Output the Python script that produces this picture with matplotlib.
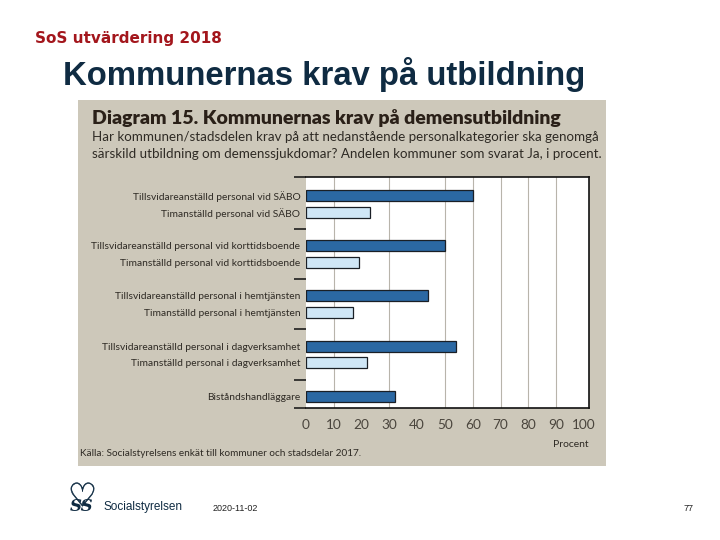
import matplotlib.pyplot as plt
from matplotlib.patches import Rectangle
from matplotlib.lines import Line2D

# Data (andel kommuner som svarat Ja, procent)
kategorier = [
    "Tillsvidareanställd personal vid SÄBO",
    "Timanställd personal vid SÄBO",
    "Tillsvidareanställd personal vid korttidsboende",
    "Timanställd personal vid korttidsboende",
    "Tillsvidareanställd personal i hemtjänsten",
    "Timanställd personal i hemtjänsten",
    "Tillsvidareanställd personal i dagverksamhet",
    "Timanställd personal i dagverksamhet",
    "Biståndshandläggare",
]
procent = [60, 23, 50, 19, 44, 17, 54, 22, 32]
tillsvidare = [True, False, True, False, True, False, True, False, True]
rader = [0, 1, 3, 4, 6, 7, 9, 10, 12]
grupp_grans = [2, 5, 8, 11]
xticks = list(range(0, 101, 10))
rutnat = [10, 30, 50, 60, 70, 80, 90]

MORK = "#2b68a3"
LJUS = "#cfe6f6"
BEIGE = "#cdc8ba"
TEXT = "#2e2a24"
NAVY = "#0f2b42"
PANEL_FONT = ["Lato", "DejaVu Sans"]

fig = plt.figure(figsize=(7.2, 5.4), dpi=100)
W, H = 720, 540


def fx(px):
    return px / W


def fy(py):
    return 1 - py / H


# beige diagram panel (behind everything)
fig.patches.append(Rectangle((fx(78), fy(466)), fx(606) - fx(78), fy(100) - fy(466),
                             transform=fig.transFigure, facecolor=BEIGE,
                             edgecolor="none", zorder=-10))

# slide header
fig.text(fx(35), fy(43), "SoS utvärdering 2018", color="#a3161c", fontsize=11,
         fontweight="bold", family=["DejaVu Sans"], va="baseline")
fig.text(fx(63), fy(85), "Kommunernas krav på utbildning", color=NAVY, fontsize=23.7,
         fontweight="bold", family=["Liberation Sans", "DejaVu Sans"], va="baseline")

# diagram header inside panel
fig.text(fx(92), fy(124), "Diagram 15. Kommunernas krav på demensutbildning",
         color="#2a2018", fontsize=14, fontweight="heavy", family=PANEL_FONT,
         va="baseline")
fig.text(fx(92), fy(141),
         "Har kommunen/stadsdelen krav på att nedanstående personalkategorier ska genomgå",
         color=TEXT, fontsize=9.6, family=PANEL_FONT, va="baseline")
fig.text(fx(92), fy(158),
         "särskild utbildning om demenssjukdomar? Andelen kommuner som svarat Ja, i procent.",
         color=TEXT, fontsize=9.6, family=PANEL_FONT, va="baseline")

ax = fig.add_axes([fx(306), fy(408), fx(589) - fx(306), fy(177) - fy(408)])
ax.set_facecolor("white")

farger = [MORK if t else LJUS for t in tillsvidare]
ax.barh(rader, procent, height=0.66, color=farger, edgecolor="#1a1f26",
        linewidth=0.9, zorder=3)

for g in rutnat:
    ax.axvline(g, color="#b8b4ab", linewidth=0.8, zorder=1)

ax.set_xlim(0, 101.8)
ax.set_ylim(12.7, -1.1)

ax.set_xticks(xticks)
ax.set_xticklabels([str(v) for v in xticks], family=PANEL_FONT, fontsize=9.8,
                   color="#4a453d")
ax.tick_params(axis="x", length=0, pad=8)

ax.set_yticks(rader)
ax.set_yticklabels(kategorier, family=PANEL_FONT, fontsize=7.4, color=TEXT)
ax.tick_params(axis="y", which="major", length=0, pad=4)
ax.set_yticks(grupp_grans + [-1.1, 12.7], minor=True)
ax.tick_params(axis="y", which="minor", length=9, width=1.1, color="#111111")

for s in ["top", "bottom", "right"]:
    ax.spines[s].set_color("#111111")
    ax.spines[s].set_linewidth(1.2)
ax.spines["left"].set_visible(False)

fig.text(fx(589), fy(447), "Procent", color=TEXT, fontsize=7.5, family=PANEL_FONT,
         ha="right", va="baseline")
fig.text(fx(80), fy(456), "Källa: Socialstyrelsens enkät till kommuner och stadsdelar 2017.",
         color=TEXT, fontsize=7.2, family=PANEL_FONT, va="baseline")

# footer logo: heart mark above the "SS" monogram
fig.add_artist(Line2D([fx(82)], [fy(494)], marker=r"$\heartsuit$", markersize=17,
                      color=NAVY, markeredgewidth=0.4, transform=fig.transFigure))
fig.text(fx(82), fy(511), "SS", color=NAVY, fontsize=12, fontweight="bold",
         fontstyle="italic", family=["DejaVu Serif"], ha="center", va="baseline")
fig.text(fx(103), fy(510), "Socialstyrelsen", color=NAVY, fontsize=8.5,
         family=["Liberation Sans Narrow", "Liberation Sans", "DejaVu Sans"],
         va="baseline")
fig.text(fx(213), fy(511), "2020-11-02", color="#222222", fontsize=6.5,
         family=["Liberation Sans", "DejaVu Sans"], va="baseline")
fig.text(fx(694), fy(511), "77", color="#222222", fontsize=6.5,
         family=["Liberation Sans", "DejaVu Sans"], ha="right", va="baseline")

fig.savefig("out.png", dpi=100)
